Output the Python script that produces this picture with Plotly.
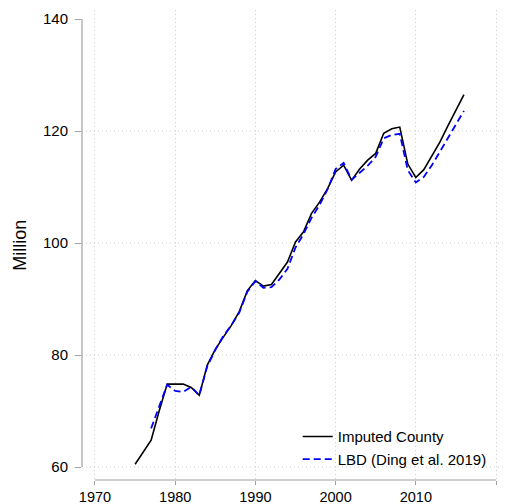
import plotly.graph_objects as go

FONT = "Liberation Sans, Arial, sans-serif"

# Imputed County (black, solid)
years_imputed = list(range(1975, 2017))
imputed = [
    60.5, 62.6, 64.8, 70.0, 74.8, 74.8, 74.8, 74.2, 72.8, 78.2,
    81.0, 83.2, 85.3, 87.8, 91.5, 93.3, 92.3, 92.6, 94.5, 96.6,
    100.2, 102.0, 105.3, 107.3, 109.7, 112.7, 113.9, 111.2, 113.2, 114.8,
    116.0, 119.6, 120.4, 120.7, 114.1, 111.7, 113.1, 115.5, 118.0, 120.9,
    123.7, 126.5,
]

# LBD (Ding et al. 2019) (blue, dashed)
years_lbd = list(range(1977, 2017))
lbd = [
    66.9, 70.8, 74.7, 73.6, 73.4, 74.3, 72.8, 78.0, 80.9, 83.4,
    85.3, 87.6, 91.3, 93.2, 92.0, 92.1, 93.5, 95.4, 99.2, 101.6,
    104.5, 106.8, 109.6, 113.2, 114.3, 111.3, 112.5, 113.8, 115.4, 118.7,
    119.3, 119.5, 113.0, 110.8, 111.8, 113.9, 116.3, 118.7, 121.1, 123.6,
]

x_ticks = [1970, 1980, 1990, 2000, 2010, 2020]
y_ticks = [60, 80, 100, 120, 140]
y_grid = [60, 80, 100, 120]

AXIS_GREY = "#a0a0a0"
GRID_GREY = "#cfcfcf"
DOTS = "1px,3px"

fig = go.Figure()
fig.add_trace(go.Scatter(
    x=years_imputed, y=imputed, mode="lines", name="Imputed County",
    line=dict(color="black", width=1.6),
))
fig.add_trace(go.Scatter(
    x=years_lbd, y=lbd, mode="lines", name="LBD (Ding et al. 2019)",
    line=dict(color="#0000ff", width=1.8, dash="7px,4px"),
))

for v in y_grid:
    fig.add_hline(y=v, line_dash=DOTS, line_color=GRID_GREY, line_width=1,
                  layer="below")

# detached axis lines, Stata style
fig.add_shape(type="line", xref="paper", yref="y", x0=0, x1=0,
              y0=y_ticks[0], y1=y_ticks[-1],
              line=dict(color=AXIS_GREY, width=1.2))
fig.add_shape(type="line", xref="x", yref="paper", x0=x_ticks[0],
              x1=x_ticks[-1], y0=0, y1=0,
              line=dict(color=AXIS_GREY, width=1.2))

fig.add_annotation(text="Million", textangle=-90, xref="paper", yref="paper",
                   x=-0.147, y=0.5, xanchor="center", yanchor="middle",
                   showarrow=False, font=dict(size=18, color="black"))

fig.update_xaxes(
    range=[1968.38, 2021.12], tickvals=x_ticks, ticks="outside", ticklen=4,
    tickcolor=AXIS_GREY, tickwidth=1.2, showline=False, zeroline=False,
    showgrid=True, gridcolor=GRID_GREY, griddash=DOTS, gridwidth=1,
    tickfont=dict(size=14.5, color="black"), automargin=False,
)
fig.update_yaxes(
    range=[57.68, 141.61], tickvals=y_ticks, ticks="outside", ticklen=6,
    tickcolor=AXIS_GREY, tickwidth=1.2, showline=False, zeroline=False,
    showgrid=False, ticklabelstandoff=4,
    tickfont=dict(size=15, color="black"), automargin=False,
)

fig.update_layout(
    width=512, height=504,
    margin=dict(l=82, r=7, t=10, b=24),
    paper_bgcolor="white", plot_bgcolor="white",
    font=dict(family=FONT, color="black"),
    legend=dict(x=0.51, y=0.127, xanchor="left", yanchor="top",
                bgcolor="rgba(0,0,0,0)", font=dict(size=15),
                itemwidth=30, tracegroupgap=0),
)

# the page body has a default 8px margin; drop it so the figure fills the window
fig.write_html("out.html", config={"displayModeBar": False},
               post_script="document.body.style.margin = '0px';")
